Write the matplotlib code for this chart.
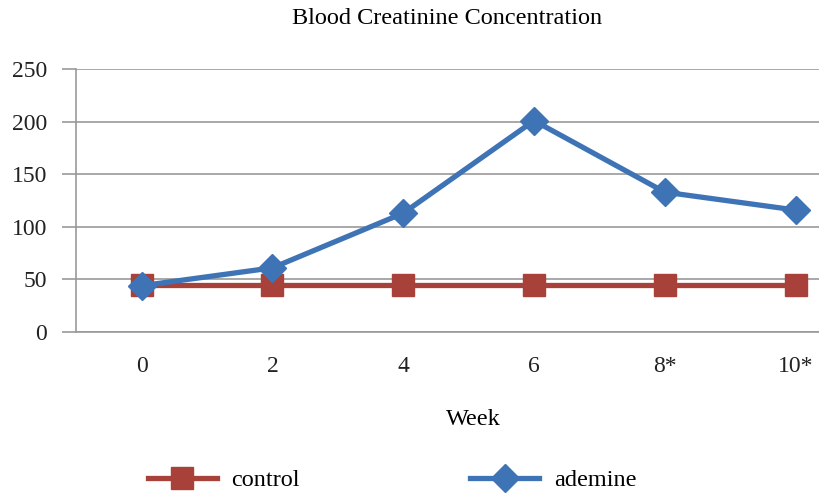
import numpy as np
import matplotlib.pyplot as plt

plt.rcParams['font.family'] = ['Liberation Serif', 'DejaVu Serif']

weeks = ['0', '2', '4', '6', '8*', '10*']
control = [45, 45, 45, 45, 45, 45]
ademine = [44, 61, 113, 201, 133, 116]

fig = plt.figure(figsize=(8.2, 4.94), dpi=100)
ax = fig.add_axes([0.093, 0.328, 0.957, 0.532])

x = np.arange(len(weeks))
ax.plot(x, control, '-s', color='#A9413B', linewidth=3.8, markersize=16, label='control', zorder=3)
ax.plot(x, ademine, '-D', color='#3E74B5', linewidth=3.8, markersize=14, label='ademine', zorder=4)

ax.set_xlim(-0.5, len(weeks) - 0.5)
ax.set_ylim(0, 250)
ax.set_yticks(np.arange(0, 251, 50))
ax.set_xticks(x)
ax.set_xticklabels(weeks)
ax.tick_params(axis='both', labelsize=17, colors='#222222')
ax.tick_params(axis='x', length=0, pad=17)
ax.tick_params(axis='y', length=10, color='#999999', width=1.2, pad=11)
ax.grid(axis='y', color='#999999', linewidth=1.2)
ax.set_axisbelow(True)
for s in ['top', 'right']:
    ax.spines[s].set_visible(False)
ax.spines['left'].set_color('#999999')
ax.spines['left'].set_linewidth(1.2)
ax.spines['bottom'].set_color('#999999')
ax.spines['bottom'].set_linewidth(1.2)

fig.text(0.545, 0.962, 'Blood Creatinine Concentration', ha='center', va='center', fontsize=17.5)
fig.text(0.577, 0.15, 'Week', ha='center', va='center', fontsize=17.5)

fig.legend(loc='center', bbox_to_anchor=(0.478, 0.028), ncol=2, frameon=False,
           fontsize=17.5, handlelength=2.85, columnspacing=7, handletextpad=0.6)

fig.savefig('out.png', dpi=100)
